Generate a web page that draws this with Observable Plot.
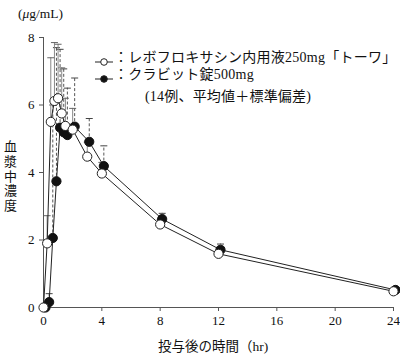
<!DOCTYPE html>
<html><head><meta charset="utf-8">
<script src="https://cdn.jsdelivr.net/npm/d3@7"></script>
<script src="https://cdn.jsdelivr.net/npm/@observablehq/plot@0.6"></script>
<style>
body{margin:0;background:#fff;}
#wrap{position:relative;width:400px;height:359px;overflow:hidden;font-family:"Liberation Serif","Noto Sans CJK JP",serif;color:#111;}
#wrap > svg{position:absolute;left:0;top:0;}
.ov{position:absolute;white-space:nowrap;line-height:1;}
</style></head>
<body><div id="wrap"></div>
<script>
const times = [0, 0.25, 0.5, 0.75, 1, 1.25, 1.5, 2, 3, 4, 8, 12, 24];
const levoMean = [0, 1.90, 5.50, 6.12, 6.20, 5.75, 5.38, 5.27, 4.47, 3.97, 2.46, 1.59, 0.48];
const levoSD   = [0, 0.82, 1.90, 1.73, 1.60, 1.35, 0.82, 0.63, 0.43, 0.33, 0.14, 0.11, 0.07];
const cravitMean = [0, 0.16, 2.06, 3.74, 5.33, 5.19, 5.11, 5.36, 4.91, 4.19, 2.62, 1.71, 0.52];
const cravitSD   = [0, 0.25, 3.94, 3.96, 2.32, 1.88, 1.39, 1.44, 0.69, 0.60, 0.17, 0.17, 0.08];
const xTicks = [0, 4, 8, 12, 16, 20, 24];
const yTicks = [0, 2, 4, 6, 8];
const seriesNames = ["レボフロキサシン内用液250mg「トーワ」", "クラビット錠500mg"];
const note = "(14例、平均値＋標準偏差)";
const yTitle = "(μg/mL)";
const yLabel = "血漿中濃度";
const xLabel = "投与後の時間（hr)";

const levo = times.map((t, i) => ({t, v: levoMean[i], top: levoMean[i] + levoSD[i], sd: levoSD[i]}));
const cravit = times.map((t, i) => ({t, v: cravitMean[i], top: cravitMean[i] + cravitSD[i], sd: cravitSD[i]}));
const levoE = levo.filter(d => d.sd > 0);
const cravitE = cravit.filter(d => d.sd > 0);

const cap = {draw(ctx, size){ const r = Math.sqrt(size/Math.PI); ctx.moveTo(-r,0); ctx.lineTo(r,0); }};
const font = "Liberation Serif, Noto Sans CJK JP, serif";
const DX = 2;

const chart = Plot.plot({
  width: 400, height: 359,
  marginLeft: 43, marginRight: 7, marginTop: 37, marginBottom: 52,
  style: {fontFamily: font, fontSize: "13px", color: "#111", background: "#fff"},
  x: {domain: [0, 24]},
  y: {domain: [0, 8]},
  marks: [
    Plot.ruleX(cravitE, {x: "t", y1: "v", y2: "top", dx: DX, stroke: "#555", strokeWidth: 1, strokeDasharray: "3,2"}),
    Plot.dot(cravitE, {x: "t", y: "top", dx: DX, symbol: cap, r: 3.5, stroke: "#444", fill: "none", strokeWidth: 1}),
    Plot.ruleX(levoE, {x: "t", y1: "v", y2: "top", stroke: "#888", strokeWidth: 1}),
    Plot.dot(levoE, {x: "t", y: "top", symbol: cap, r: 3.5, stroke: "#666", fill: "none", strokeWidth: 1}),
    Plot.ruleX([0], {y1: 0, y2: 8, stroke: "#555"}),
    Plot.ruleY([0], {x1: 0, x2: 24, stroke: "#555"}),
    Plot.axisY({ticks: yTicks, tickSize: 4, tickPadding: 5, label: null, stroke: "#555", fontSize: 13}),
    Plot.axisX({ticks: xTicks, tickSize: 4, tickPadding: 4, label: null, stroke: "#555", fontSize: 13}),
    Plot.line(cravit, {x: "t", y: "v", dx: DX, stroke: "#222", strokeWidth: 1}),
    Plot.line(levo, {x: "t", y: "v", stroke: "#222", strokeWidth: 1}),
    Plot.dot(cravit, {x: "t", y: "v", dx: DX, r: 4.6, fill: "#111", stroke: "#111", strokeWidth: 1}),
    Plot.dot(levo, {x: "t", y: "v", r: 4.6, fill: "#fff", stroke: "#222", strokeWidth: 1})
  ]
});
const wrap = document.getElementById("wrap");
wrap.appendChild(chart);

function ov(html, css){ const d = document.createElement("div"); d.className = "ov"; d.innerHTML = html; Object.assign(d.style, css); wrap.appendChild(d); return d; }
function marker(filled, left, top){
  const d = document.createElement("div");
  Object.assign(d.style, {position: "absolute", left: left + "px", top: top + "px", width: "18px", height: "10px"});
  d.innerHTML = `<svg width="18" height="10"><line x1="0" y1="5" x2="18" y2="5" stroke="#222" stroke-width="1"/><circle cx="9" cy="5" r="3.3" fill="${filled ? '#111' : '#fff'}" stroke="#222" stroke-width="1"/></svg>`;
  wrap.appendChild(d);
}
ov(yTitle.replace("μ", "<i>μ</i>"), {left: "18px", top: "7px", fontSize: "13.5px"});
ov(yLabel, {left: "4px", top: "140px", fontSize: "13px", writingMode: "vertical-rl", letterSpacing: "1.6px", fontFamily: "Noto Sans CJK JP, sans-serif"});
ov(xLabel, {left: "158px", top: "340px", fontSize: "13.5px"});
marker(false, 95, 53);
marker(true, 95, 70);
ov("：" + seriesNames[0], {left: "114px", top: "51px", fontSize: "14px", letterSpacing: "0.25px"});
ov("：" + seriesNames[1], {left: "114px", top: "68px", fontSize: "14px", letterSpacing: "0.25px"});
ov(note, {left: "145px", top: "90px", fontSize: "14px", letterSpacing: "0.2px"});
</script></body></html>
